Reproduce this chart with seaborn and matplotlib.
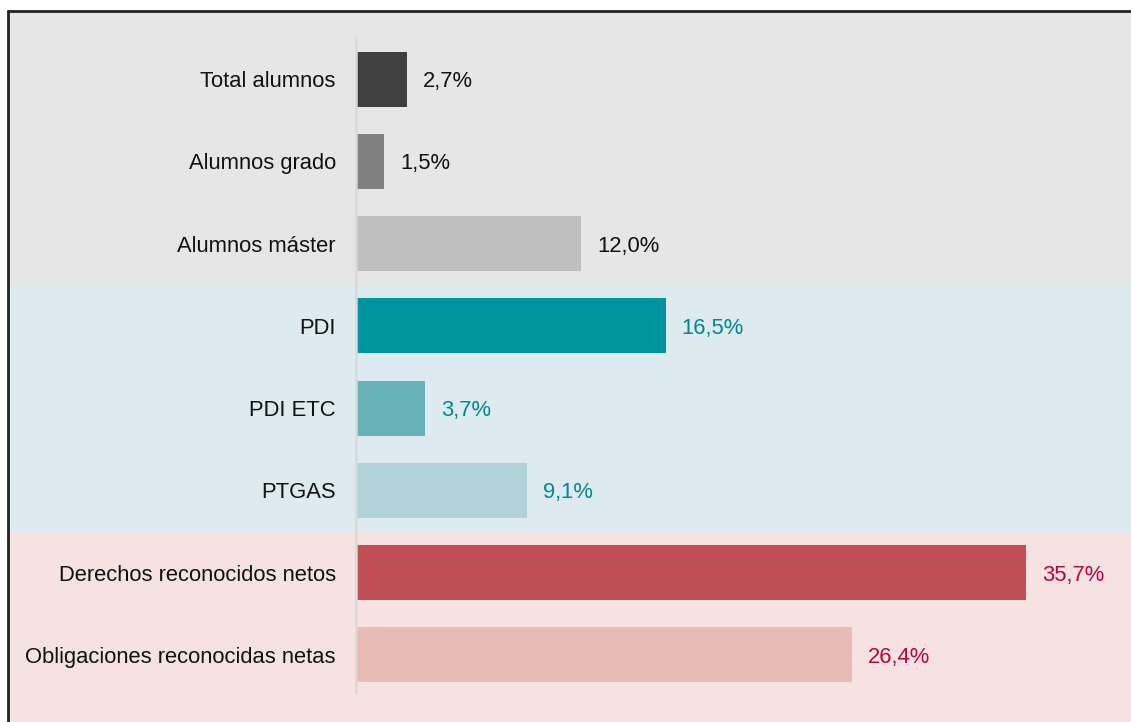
import matplotlib

matplotlib.use('Agg')
import matplotlib.pyplot as plt
import matplotlib.transforms as mtransforms
from matplotlib.patches import Rectangle
import pandas as pd
import seaborn as sns

# Data
categorias = ['Total alumnos', 'Alumnos grado', 'Alumnos máster',
              'PDI', 'PDI ETC', 'PTGAS',
              'Derechos reconocidos netos', 'Obligaciones reconocidas netas']
valores = [2.7, 1.5, 12.0, 16.5, 3.7, 9.1, 35.7, 26.4]
colores_barra = ['#404040', '#808080', '#bfbfbf',
                 '#00959e', '#66b2b8', '#afd3d9',
                 '#c05055', '#e8bbb5']
colores_texto = ['#111111', '#111111', '#111111',
                 '#00878f', '#00878f', '#00878f',
                 '#b5083c', '#b5083c']

df = pd.DataFrame({'categoria': categorias, 'valor': valores})

sns.set_theme(style='white')
plt.rcParams['font.family'] = ['Liberation Sans', 'DejaVu Sans']
plt.rcParams['font.size'] = 15.8

fig = plt.figure(figsize=(11.31, 7.22), dpi=100)
fig.patch.set_facecolor('white')
ax = fig.add_axes([356 / 1131, 26 / 722, 1 - 356 / 1131, (696 - 38) / 722])
ax.patch.set_alpha(0)
ax.set_zorder(2)

# Background bands (grey / blue / pink) behind each group
top_border = 1 - 11 / 722
left_border = 8 / 1131
fig.patches.append(Rectangle((left_border, -0.02), 1.05, top_border + 0.02,
                             transform=fig.transFigure, facecolor='#e6e6e6',
                             edgecolor='none', zorder=-3))
blend = mtransforms.blended_transform_factory(fig.transFigure, ax.transData)
fig.patches.append(Rectangle((left_border, 2.5), 1.05, 3.0, transform=blend,
                             facecolor='#ddebf0', edgecolor='none', zorder=-2))
fig.patches.append(Rectangle((left_border, 5.5), 1.05, 20.0, transform=blend,
                             facecolor='#f5e2e1', edgecolor='none', zorder=-2))
# frame lines (left and top)
fig.add_artist(plt.Line2D([left_border, left_border], [-0.02, top_border],
                          transform=fig.transFigure, color='#222222', lw=2, zorder=-1))
fig.add_artist(plt.Line2D([left_border, 1.02], [top_border, top_border],
                          transform=fig.transFigure, color='#222222', lw=2, zorder=-1))

sns.barplot(data=df, y='categoria', x='valor', hue='categoria',
            palette=dict(zip(categorias, colores_barra)), dodge=False,
            legend=False, width=0.67, saturation=1, linewidth=0, ax=ax)

for cont, val, col in zip(ax.containers, valores, colores_texto):
    etiqueta = f'{val:.1f}'.replace('.', ',') + '%'
    txts = ax.bar_label(cont, labels=[etiqueta], padding=11.5, color=col, fontsize=15.8)
    for t in txts:
        t.set_va('center_baseline')

ax.set_xlim(0, (1131 - 356) / 18.77)
ax.set_ylim(7.5, -0.5)
ax.set_xlabel('')
ax.set_ylabel('')
ax.set_xticks([])
ax.tick_params(axis='y', length=0, pad=14.5, labelsize=15.8, labelcolor='#111111')
for s in ['top', 'right', 'bottom']:
    ax.spines[s].set_visible(False)
ax.spines['left'].set_color('#d9d9d9')
ax.spines['left'].set_linewidth(1.8)
ax.spines['left'].set_bounds(-0.5, 7.45)

fig.savefig('out.png', dpi=100)
